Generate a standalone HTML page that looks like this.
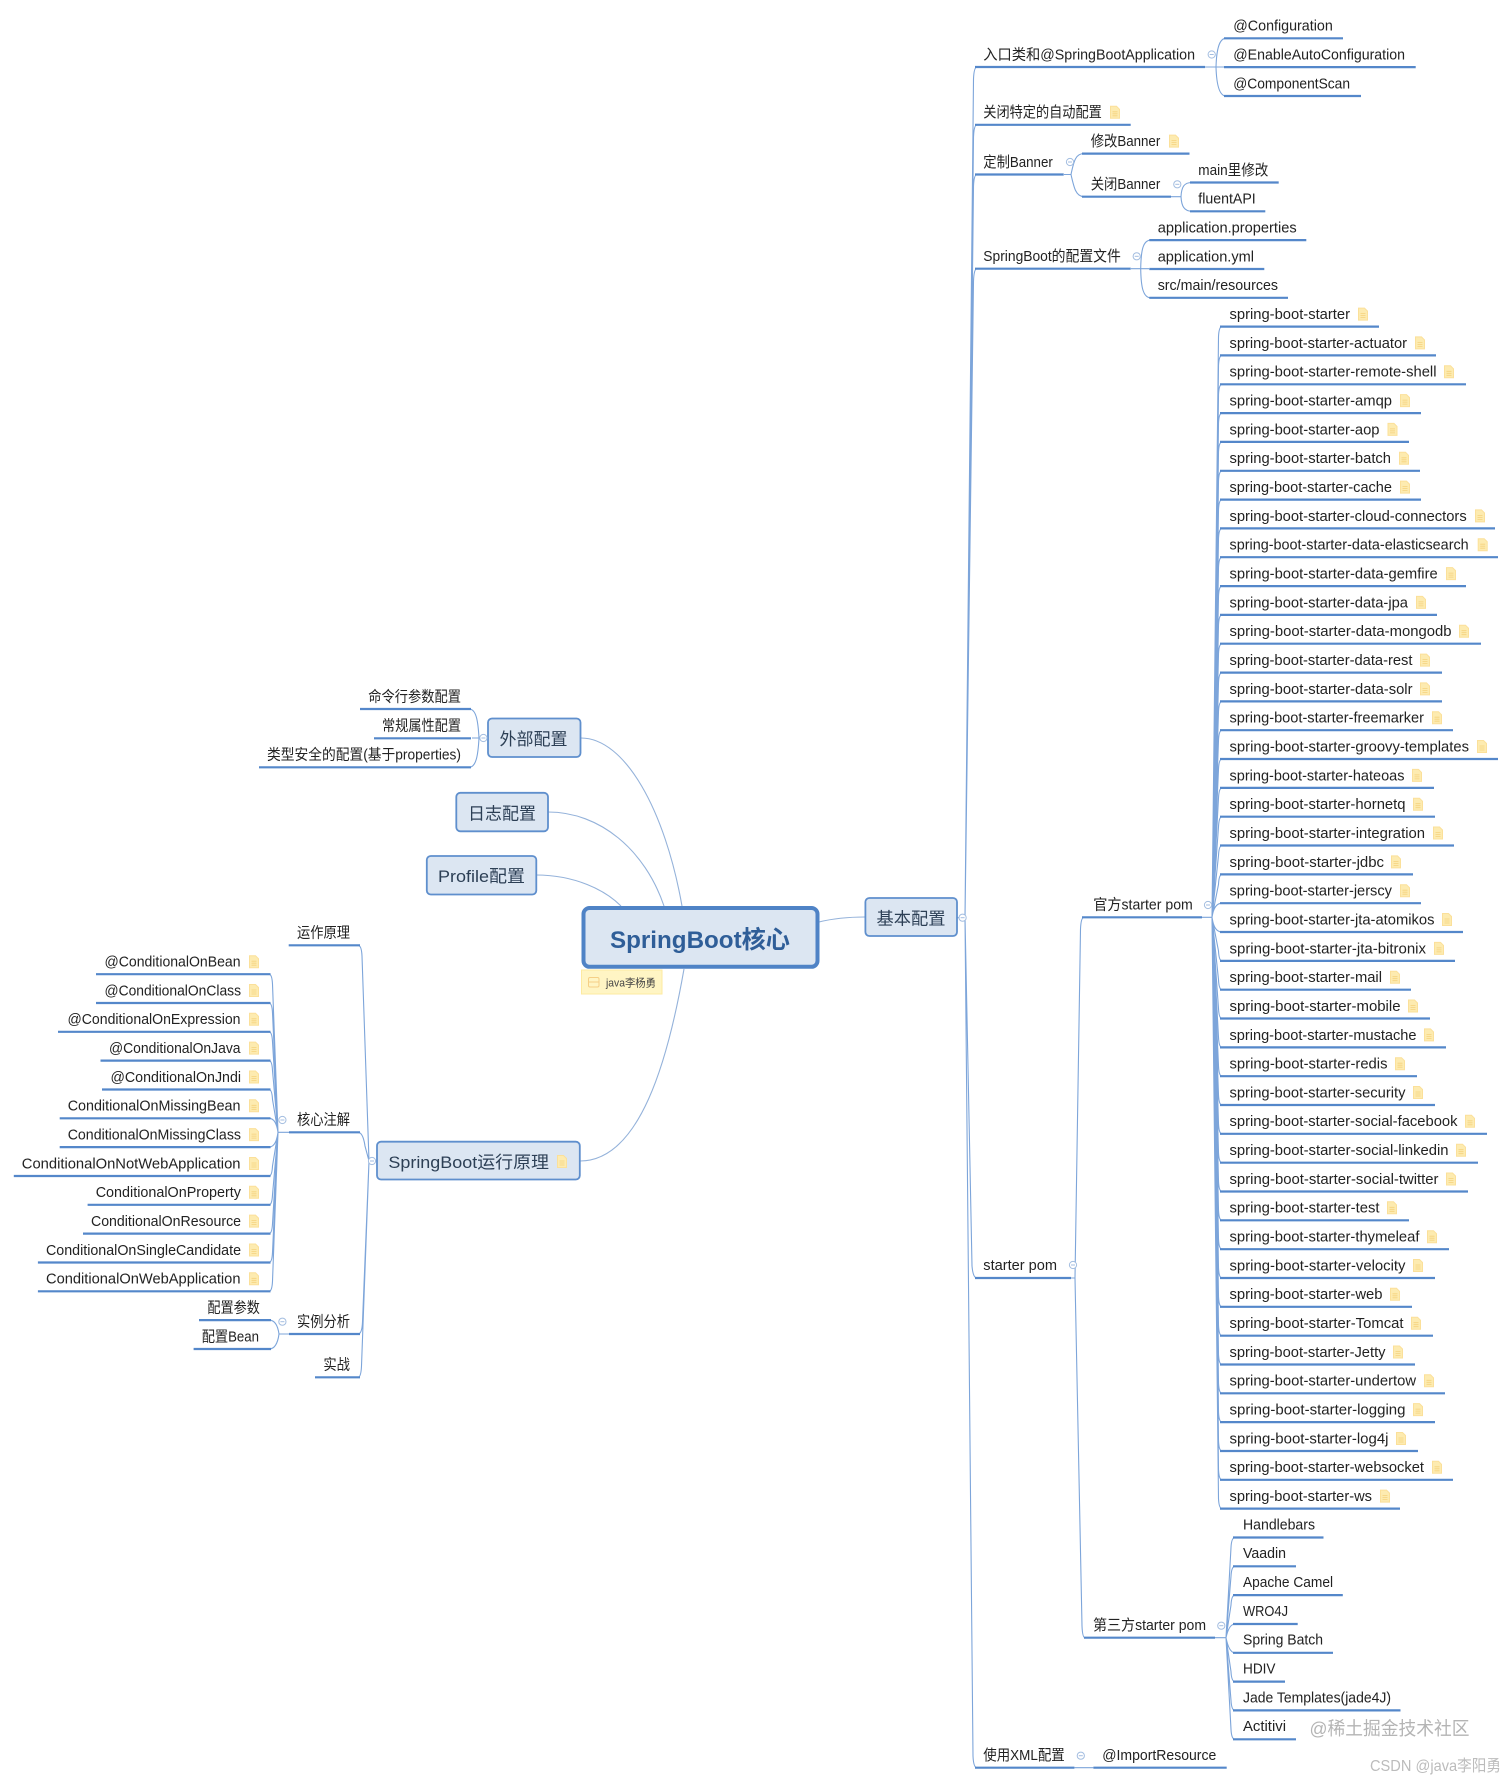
<!DOCTYPE html>
<html>
<head>
<meta charset="utf-8">
<style>
html,body{margin:0;padding:0;background:#fff}
svg{display:block;filter:blur(.3px)}
text{font-family:"Liberation Sans","Noto Sans CJK SC",sans-serif;font-size:14.7px;fill:#222}
.ul{fill:none;stroke:#5487ca;stroke-width:2.2}
.bus{fill:none;stroke:#7da5da;stroke-width:1.1}
.cn{fill:none;stroke:#94b2da;stroke-width:1.1}
.box{fill:#dce6f2;stroke:#5f8fcd;stroke-width:1.8}
.bt{font-size:17px;fill:#2c3f55}
</style>
</head>
<body>
<svg width="1512" height="1781" viewBox="0 0 1512 1781" xmlns="http://www.w3.org/2000/svg">
<defs>
<g id="i"><path d="M0.5 0.5H6.5L9.5 3.5V12.5H0.5Z" fill="#fdebb0" stroke="#fbe09a" stroke-width="1"/><path d="M2.5 6H7.5M2.5 8H7.5M2.5 10H7.5" stroke="#f5d27c" stroke-width="0.8"/></g>
<g id="c"><circle r="3.6" fill="#fff" stroke="#a3bde0" stroke-width="1"/><path d="M-2 0H2" stroke="#a3bde0" stroke-width="1"/></g>
</defs>

<!-- root connectors -->
<path class="cn" d="M581 738C625 738 665 810 682 906"/>
<path class="cn" d="M548 812C600 812 645 850 664 906"/>
<path class="cn" d="M536 875C575 875 605 890 621 906"/>
<path class="cn" d="M819 922C835 918 850 917 865 917"/>
<path class="cn" d="M580 1161C640 1161 668 1060 684 969"/>

<!-- buses right -->
<path class="bus" d="M957 917.7H965L973.5 79Q974 67 977 67M965 917.7L973.5 137Q974 124.8 977 124.8M965 917.7L973.5 186Q974 174.5 977 174.5M965 917.7L973.5 281Q974 268.7 977 268.7M965 917.7L972 1266Q973 1278 977 1278M965 917.7L973 1756Q973.5 1767.7 977 1767.7"/>
<path class="bus" d="M1205 67H1216C1216.5 50 1219 38.3 1226 38.3M1205 67H1224M1216 67C1216.5 84 1219 96 1226 96"/>
<path class="bus" d="M1064 174.5H1071C1074 160 1076 153.6 1084 153.6M1071 174.5C1074 188 1076 196.7 1084 196.7"/>
<path class="bus" d="M1171 196.7H1181C1181.5 187 1184 182.5 1192 182.5M1181 196.7C1181.5 206 1184 211.3 1192 211.3"/>
<path class="bus" d="M1131 268.7H1149M1140.7 268.7C1141 250 1143 240.1 1151 240.1M1140.7 268.7C1141 287 1143 297.8 1151 297.8"/>
<path class="bus" d="M1071 1278H1075L1080.5 929Q1081 917.3 1084 917.3M1075 1278L1082 1626Q1082.5 1637.7 1085 1637.7"/>
<path class="bus" d="M1202 917.3H1212L1218.5 336.6Q1219 326.6 1222 326.6M1212 917.3L1218.5 365.4Q1219 355.4 1222 355.4M1212 917.3L1218.5 394.3Q1219 384.3 1222 384.3M1212 917.3L1218.5 423.1Q1219 413.1 1222 413.1M1212 917.3L1218.5 451.9Q1219 441.9 1222 441.9M1212 917.3L1218.5 480.8Q1219 470.8 1222 470.8M1212 917.3L1218.5 509.6Q1219 499.6 1222 499.6M1212 917.3L1218.5 538.4Q1219 528.4 1222 528.4M1212 917.3L1218.5 567.2Q1219 557.2 1222 557.2M1212 917.3L1218.5 596.1Q1219 586.1 1222 586.1M1212 917.3L1218.5 624.9Q1219 614.9 1222 614.9M1212 917.3L1218.5 653.7Q1219 643.7 1222 643.7M1212 917.3L1218.5 682.6Q1219 672.6 1222 672.6M1212 917.3L1218.5 711.4Q1219 701.4 1222 701.4M1212 917.3L1218.5 740.2Q1219 730.2 1222 730.2M1212 917.3L1218.5 769Q1219 759 1222 759M1212 917.3L1218.5 797.9Q1219 787.9 1222 787.9M1212 917.3L1218.5 826.7Q1219 816.7 1222 816.7M1212 917.3L1218.5 855.5Q1219 845.5 1222 845.5M1212 917.3L1218.5 884.4Q1219 874.4 1222 874.4M1212 917.3Q1214 903.2 1222 903.2M1212 917.3Q1214 932 1222 932M1212 917.3L1218.5 950.9Q1219 960.9 1222 960.9M1212 917.3L1218.5 979.7Q1219 989.7 1222 989.7M1212 917.3L1218.5 1008.5Q1219 1018.5 1222 1018.5M1212 917.3L1218.5 1037.4Q1219 1047.4 1222 1047.4M1212 917.3L1218.5 1066.2Q1219 1076.2 1222 1076.2M1212 917.3L1218.5 1095Q1219 1105 1222 1105M1212 917.3L1218.5 1123.8Q1219 1133.8 1222 1133.8M1212 917.3L1218.5 1152.7Q1219 1162.7 1222 1162.7M1212 917.3L1218.5 1181.5Q1219 1191.5 1222 1191.5M1212 917.3L1218.5 1210.3Q1219 1220.3 1222 1220.3M1212 917.3L1218.5 1239.2Q1219 1249.2 1222 1249.2M1212 917.3L1218.5 1268Q1219 1278 1222 1278M1212 917.3L1218.5 1296.8Q1219 1306.8 1222 1306.8M1212 917.3L1218.5 1325.7Q1219 1335.7 1222 1335.7M1212 917.3L1218.5 1354.5Q1219 1364.5 1222 1364.5M1212 917.3L1218.5 1383.3Q1219 1393.3 1222 1393.3M1212 917.3L1218.5 1412.1Q1219 1422.1 1222 1422.1M1212 917.3L1218.5 1441Q1219 1451 1222 1451M1212 917.3L1218.5 1469.8Q1219 1479.8 1222 1479.8M1212 917.3L1218.5 1498.6Q1219 1508.6 1222 1508.6"/>
<path class="bus" d="M1215 1637.7H1226L1231 1547.5Q1231.5 1537.5 1235 1537.5M1226 1637.7L1231 1576.3Q1231.5 1566.3 1235 1566.3M1226 1637.7L1231 1605.1Q1231.5 1595.1 1235 1595.1M1226 1637.7Q1229 1624 1235 1624M1226 1637.7Q1229 1652.8 1235 1652.8M1226 1637.7L1231 1671.6Q1231.5 1681.6 1235 1681.6M1226 1637.7L1231 1700.4Q1231.5 1710.4 1235 1710.4M1226 1637.7L1231 1729.3Q1231.5 1739.3 1235 1739.3"/>
<path class="bus" d="M1074.4 1767.7H1093.4"/>

<!-- buses left -->
<path class="bus" d="M377 1161H369L362 956Q361.5 945.3 358 945.3M369 1161L365 1146Q363 1132.3 358 1132.3M369 1161L362.5 1322Q362 1334 358 1334M369 1161L361.5 1366Q361 1377.3 358 1377.3"/>
<path class="bus" d="M289 1132.3H278L272.5 984.2Q272 974.2 269 974.2M278 1132.3L272.5 1013Q272 1003 269 1003M278 1132.3L272.5 1041.8Q272 1031.8 269 1031.8M278 1132.3L272.5 1070.6Q272 1060.6 269 1060.6M278 1132.3L272.5 1099.5Q272 1089.5 269 1089.5M278 1132.3Q276 1118.3 269 1118.3M278 1132.3Q276 1147.1 269 1147.1M278 1132.3L272.5 1166Q272 1176 269 1176M278 1132.3L272.5 1194.8Q272 1204.8 269 1204.8M278 1132.3L272.5 1223.6Q272 1233.6 269 1233.6M278 1132.3L272.5 1252.5Q272 1262.5 269 1262.5M278 1132.3L272.5 1281.3Q272 1291.3 269 1291.3"/>
<path class="bus" d="M289 1334H279Q277 1320.1 269 1320.1M279 1334Q277 1349 269 1349"/>
<path class="bus" d="M488 738H472M479 738C478 720 476 709 469 709M479 738C478 756 476 767.3 469 767.3"/>

<!-- underlines -->
<path class="ul" d="M975 67H1205M1224 38.3H1343M1224 67.1H1415.7M1224 96H1361M975 124.8H1130.7M975 174.5H1063.7M1082 153.6H1189.5M1082 196.7H1171M1190 182.5H1278.7M1190 211.3H1265.3M975 268.7H1130.7M1149.3 240.1H1306.3M1149.3 269H1264.3M1149.3 297.8H1288M975 1278H1071M1082 917.3H1202M1084 1637.7H1215M975 1767.7H1074.4M1093.4 1767.7H1226.7
M1233 1537.5H1323.5M1233 1566.3H1296M1233 1595.1H1342.8M1233 1624H1297.7M1233 1652.8H1333M1233 1681.6H1285M1233 1710.4H1400.5M1233 1739.3H1296
M1220 326.6H1379M1220 355.4H1436M1220 384.3H1466M1220 413.1H1421M1220 441.9H1409M1220 470.8H1420M1220 499.6H1421M1220 528.4H1495M1220 557.2H1498M1220 586.1H1466M1220 614.9H1437M1220 643.7H1481M1220 672.6H1442M1220 701.4H1442M1220 730.2H1453M1220 759H1498M1220 787.9H1434M1220 816.7H1435M1220 845.5H1454M1220 874.4H1413M1220 903.2H1421M1220 932H1463M1220 960.9H1455M1220 989.7H1411M1220 1018.5H1430M1220 1047.4H1446M1220 1076.2H1417M1220 1105H1435M1220 1133.8H1487M1220 1162.7H1478M1220 1191.5H1468M1220 1220.3H1409M1220 1249.2H1449M1220 1278H1435M1220 1306.8H1412M1220 1335.7H1433M1220 1364.5H1415M1220 1393.3H1445M1220 1422.1H1435M1220 1451H1418M1220 1479.8H1453M1220 1508.6H1400
M288.7 945.3H360M289 1132.3H360M289 1334H360M315 1377.3H360
M96 974.2H270.5M96 1003H270.5M58 1031.8H270.5M100.5 1060.6H270.5M102 1089.5H270.5M59.7 1118.3H270.5M59.7 1147.1H270.5M13.8 1176H270.5M87.6 1204.8H270.5M83 1233.6H270.5M37.9 1262.5H270.5M37.9 1291.3H270.5M199 1320.1H271M193.6 1349H271
M360 709H471M374 738.3H471M259 767.3H471"/>

<!-- boxes -->
<rect class="box" x="488" y="718.5" width="92.5" height="38.5" rx="4"/>
<rect class="box" x="456.3" y="792.8" width="91.7" height="38.5" rx="4"/>
<rect class="box" x="426.8" y="856" width="109.5" height="38.5" rx="4"/>
<rect class="box" x="865.4" y="898" width="91.6" height="38" rx="4"/>
<rect class="box" x="377" y="1141.7" width="202.8" height="37.8" rx="4"/>
<rect x="583.5" y="908" width="234" height="58.8" rx="6" fill="#dce6f2" stroke="#4f83c6" stroke-width="4"/>

<text x="610" y="948" textLength="180" lengthAdjust="spacingAndGlyphs" style="font-size:24.5px;font-weight:bold;fill:#2f5e98">SpringBoot核心</text>
<text class="bt" x="499.5" y="745" textLength="68" lengthAdjust="spacingAndGlyphs">外部配置</text>
<text class="bt" x="468" y="819.5" textLength="68" lengthAdjust="spacingAndGlyphs">日志配置</text>
<text class="bt" x="438" y="882" textLength="87" lengthAdjust="spacingAndGlyphs">Profile配置</text>
<text class="bt" x="876.5" y="924.5" textLength="69" lengthAdjust="spacingAndGlyphs">基本配置</text>
<text class="bt" x="388.4" y="1168" textLength="160.6" lengthAdjust="spacingAndGlyphs">SpringBoot运行原理</text>
<use href="#i" x="557" y="1155"/>

<!-- note -->
<rect x="581.5" y="970" width="80.5" height="24" fill="#fff5c4" stroke="#fdeaa0" stroke-width="1"/>
<rect x="588.5" y="977.5" width="10.5" height="9.5" rx="1.5" fill="none" stroke="#f5cf86" stroke-width="1"/>
<path d="M588.5 982H599" stroke="#f5cf86" stroke-width="1"/>
<text x="606" y="986.5" textLength="50" lengthAdjust="spacingAndGlyphs" style="font-size:11px;fill:#444">java李杨勇</text>

<!-- collapse circles -->
<use href="#c" x="962.6" y="917.7"/><use href="#c" x="1211.7" y="54.5"/><use href="#c" x="1070" y="162"/><use href="#c" x="1177.3" y="184.3"/><use href="#c" x="1136.7" y="256.3"/><use href="#c" x="1073" y="1265"/><use href="#c" x="1208" y="905"/><use href="#c" x="1221.3" y="1625.7"/><use href="#c" x="1080.8" y="1755.7"/><use href="#c" x="372" y="1161"/><use href="#c" x="282.4" y="1120"/><use href="#c" x="282.4" y="1321.7"/><use href="#c" x="483.4" y="738"/>

<!-- right top texts -->
<g>
<text x="983.3" y="59.5" textLength="211.7" lengthAdjust="spacingAndGlyphs">入口类和@SpringBootApplication</text>
<text x="1233.3" y="30.7" textLength="99.5" lengthAdjust="spacingAndGlyphs">@Configuration</text>
<text x="1233.3" y="59.5" textLength="171.7" lengthAdjust="spacingAndGlyphs">@EnableAutoConfiguration</text>
<text x="1233.3" y="88.4" textLength="116.7" lengthAdjust="spacingAndGlyphs">@ComponentScan</text>
<text x="983.3" y="117.2" textLength="118.5" lengthAdjust="spacingAndGlyphs">关闭特定的自动配置</text>
<text x="983.3" y="167" textLength="69.5" lengthAdjust="spacingAndGlyphs">定制Banner</text>
<text x="1090.7" y="146" textLength="69.6" lengthAdjust="spacingAndGlyphs">修改Banner</text>
<text x="1090.7" y="189" textLength="69.6" lengthAdjust="spacingAndGlyphs">关闭Banner</text>
<text x="1198.3" y="174.9" textLength="70" lengthAdjust="spacingAndGlyphs">main里修改</text>
<text x="1198.3" y="203.7" textLength="57.4" lengthAdjust="spacingAndGlyphs">fluentAPI</text>
<text x="983.3" y="261" textLength="137.5" lengthAdjust="spacingAndGlyphs">SpringBoot的配置文件</text>
<text x="1157.7" y="232.5" textLength="139" lengthAdjust="spacingAndGlyphs">application.properties</text>
<text x="1157.7" y="261.4" textLength="96.3" lengthAdjust="spacingAndGlyphs">application.yml</text>
<text x="1157.7" y="290.2" textLength="120.3" lengthAdjust="spacingAndGlyphs">src/main/resources</text>
<text x="983.3" y="1269.9" textLength="73.7" lengthAdjust="spacingAndGlyphs">starter pom</text>
<text x="1093.3" y="909.7" textLength="99.5" lengthAdjust="spacingAndGlyphs">官方starter pom</text>
<text x="1093" y="1630" textLength="113" lengthAdjust="spacingAndGlyphs">第三方starter pom</text>
<text x="983.3" y="1760" textLength="81.4" lengthAdjust="spacingAndGlyphs">使用XML配置</text>
<text x="1102.3" y="1760" textLength="114" lengthAdjust="spacingAndGlyphs">@ImportResource</text>

<text x="1243" y="1529.4" textLength="72" lengthAdjust="spacingAndGlyphs">Handlebars</text>
<text x="1243" y="1558.2" textLength="43" lengthAdjust="spacingAndGlyphs">Vaadin</text>
<text x="1243" y="1587" textLength="90" lengthAdjust="spacingAndGlyphs">Apache Camel</text>
<text x="1243" y="1615.9" textLength="45" lengthAdjust="spacingAndGlyphs">WRO4J</text>
<text x="1243" y="1644.7" textLength="80" lengthAdjust="spacingAndGlyphs">Spring Batch</text>
<text x="1243" y="1673.5" textLength="32.5" lengthAdjust="spacingAndGlyphs">HDIV</text>
<text x="1243" y="1702.3" textLength="148" lengthAdjust="spacingAndGlyphs">Jade Templates(jade4J)</text>
<text x="1243" y="1731.2" textLength="43" lengthAdjust="spacingAndGlyphs">Actitivi</text>

<!-- starters -->
<text x="1229.5" y="319" textLength="120.5" lengthAdjust="spacingAndGlyphs">spring-boot-starter</text>
<text x="1229.5" y="347.8" textLength="177.5" lengthAdjust="spacingAndGlyphs">spring-boot-starter-actuator</text>
<text x="1229.5" y="376.7" textLength="207" lengthAdjust="spacingAndGlyphs">spring-boot-starter-remote-shell</text>
<text x="1229.5" y="405.5" textLength="162.5" lengthAdjust="spacingAndGlyphs">spring-boot-starter-amqp</text>
<text x="1229.5" y="434.3" textLength="150" lengthAdjust="spacingAndGlyphs">spring-boot-starter-aop</text>
<text x="1229.5" y="463.2" textLength="161.5" lengthAdjust="spacingAndGlyphs">spring-boot-starter-batch</text>
<text x="1229.5" y="492" textLength="162.5" lengthAdjust="spacingAndGlyphs">spring-boot-starter-cache</text>
<text x="1229.5" y="520.8" textLength="237.2" lengthAdjust="spacingAndGlyphs">spring-boot-starter-cloud-connectors</text>
<text x="1229.5" y="549.6" textLength="239.2" lengthAdjust="spacingAndGlyphs">spring-boot-starter-data-elasticsearch</text>
<text x="1229.5" y="578.5" textLength="208.2" lengthAdjust="spacingAndGlyphs">spring-boot-starter-data-gemfire</text>
<text x="1229.5" y="607.3" textLength="178.5" lengthAdjust="spacingAndGlyphs">spring-boot-starter-data-jpa</text>
<text x="1229.5" y="636.1" textLength="222" lengthAdjust="spacingAndGlyphs">spring-boot-starter-data-mongodb</text>
<text x="1229.5" y="665" textLength="183" lengthAdjust="spacingAndGlyphs">spring-boot-starter-data-rest</text>
<text x="1229.5" y="693.8" textLength="183" lengthAdjust="spacingAndGlyphs">spring-boot-starter-data-solr</text>
<text x="1229.5" y="722.6" textLength="194.5" lengthAdjust="spacingAndGlyphs">spring-boot-starter-freemarker</text>
<text x="1229.5" y="751.4" textLength="239.5" lengthAdjust="spacingAndGlyphs">spring-boot-starter-groovy-templates</text>
<text x="1229.5" y="780.3" textLength="175" lengthAdjust="spacingAndGlyphs">spring-boot-starter-hateoas</text>
<text x="1229.5" y="809.1" textLength="176" lengthAdjust="spacingAndGlyphs">spring-boot-starter-hornetq</text>
<text x="1229.5" y="837.9" textLength="195.5" lengthAdjust="spacingAndGlyphs">spring-boot-starter-integration</text>
<text x="1229.5" y="866.8" textLength="154.5" lengthAdjust="spacingAndGlyphs">spring-boot-starter-jdbc</text>
<text x="1229.5" y="895.6" textLength="162.5" lengthAdjust="spacingAndGlyphs">spring-boot-starter-jerscy</text>
<text x="1229.5" y="924.4" textLength="205" lengthAdjust="spacingAndGlyphs">spring-boot-starter-jta-atomikos</text>
<text x="1229.5" y="953.3" textLength="196.5" lengthAdjust="spacingAndGlyphs">spring-boot-starter-jta-bitronix</text>
<text x="1229.5" y="982.1" textLength="152.5" lengthAdjust="spacingAndGlyphs">spring-boot-starter-mail</text>
<text x="1229.5" y="1010.9" textLength="171" lengthAdjust="spacingAndGlyphs">spring-boot-starter-mobile</text>
<text x="1229.5" y="1039.8" textLength="187" lengthAdjust="spacingAndGlyphs">spring-boot-starter-mustache</text>
<text x="1229.5" y="1068.6" textLength="158" lengthAdjust="spacingAndGlyphs">spring-boot-starter-redis</text>
<text x="1229.5" y="1097.4" textLength="176" lengthAdjust="spacingAndGlyphs">spring-boot-starter-security</text>
<text x="1229.5" y="1126.2" textLength="228" lengthAdjust="spacingAndGlyphs">spring-boot-starter-social-facebook</text>
<text x="1229.5" y="1155.1" textLength="219" lengthAdjust="spacingAndGlyphs">spring-boot-starter-social-linkedin</text>
<text x="1229.5" y="1183.9" textLength="209" lengthAdjust="spacingAndGlyphs">spring-boot-starter-social-twitter</text>
<text x="1229.5" y="1212.7" textLength="150" lengthAdjust="spacingAndGlyphs">spring-boot-starter-test</text>
<text x="1229.5" y="1241.6" textLength="190" lengthAdjust="spacingAndGlyphs">spring-boot-starter-thymeleaf</text>
<text x="1229.5" y="1270.4" textLength="176" lengthAdjust="spacingAndGlyphs">spring-boot-starter-velocity</text>
<text x="1229.5" y="1299.2" textLength="153" lengthAdjust="spacingAndGlyphs">spring-boot-starter-web</text>
<text x="1229.5" y="1328.1" textLength="174" lengthAdjust="spacingAndGlyphs">spring-boot-starter-Tomcat</text>
<text x="1229.5" y="1356.9" textLength="156" lengthAdjust="spacingAndGlyphs">spring-boot-starter-Jetty</text>
<text x="1229.5" y="1385.7" textLength="186.5" lengthAdjust="spacingAndGlyphs">spring-boot-starter-undertow</text>
<text x="1229.5" y="1414.5" textLength="176" lengthAdjust="spacingAndGlyphs">spring-boot-starter-logging</text>
<text x="1229.5" y="1443.4" textLength="159" lengthAdjust="spacingAndGlyphs">spring-boot-starter-log4j</text>
<text x="1229.5" y="1472.2" textLength="194.5" lengthAdjust="spacingAndGlyphs">spring-boot-starter-websocket</text>
<text x="1229.5" y="1501" textLength="142.5" lengthAdjust="spacingAndGlyphs">spring-boot-starter-ws</text>

<!-- left texts -->
<text x="368.3" y="701.4" textLength="92.7" lengthAdjust="spacingAndGlyphs">命令行参数配置</text>
<text x="382" y="730.7" textLength="79" lengthAdjust="spacingAndGlyphs">常规属性配置</text>
<text x="267" y="759.7" textLength="194" lengthAdjust="spacingAndGlyphs">类型安全的配置(基于properties)</text>
<text x="297" y="937.7" textLength="53" lengthAdjust="spacingAndGlyphs">运作原理</text>
<text x="297" y="1124.7" textLength="53" lengthAdjust="spacingAndGlyphs">核心注解</text>
<text x="297" y="1326.4" textLength="53" lengthAdjust="spacingAndGlyphs">实例分析</text>
<text x="323.4" y="1369.7" textLength="26.6" lengthAdjust="spacingAndGlyphs">实战</text>
<text x="104.5" y="966.6" textLength="136" lengthAdjust="spacingAndGlyphs">@ConditionalOnBean</text>
<text x="104.5" y="995.4" textLength="136.5" lengthAdjust="spacingAndGlyphs">@ConditionalOnClass</text>
<text x="67.5" y="1024.2" textLength="173" lengthAdjust="spacingAndGlyphs">@ConditionalOnExpression</text>
<text x="109" y="1053" textLength="131.5" lengthAdjust="spacingAndGlyphs">@ConditionalOnJava</text>
<text x="110.5" y="1081.9" textLength="130.5" lengthAdjust="spacingAndGlyphs">@ConditionalOnJndi</text>
<text x="67.7" y="1110.7" textLength="172.8" lengthAdjust="spacingAndGlyphs">ConditionalOnMissingBean</text>
<text x="67.7" y="1139.5" textLength="173.3" lengthAdjust="spacingAndGlyphs">ConditionalOnMissingClass</text>
<text x="21.8" y="1168.4" textLength="218.7" lengthAdjust="spacingAndGlyphs">ConditionalOnNotWebApplication</text>
<text x="95.7" y="1197.2" textLength="145.3" lengthAdjust="spacingAndGlyphs">ConditionalOnProperty</text>
<text x="91" y="1226" textLength="150" lengthAdjust="spacingAndGlyphs">ConditionalOnResource</text>
<text x="46" y="1254.9" textLength="195" lengthAdjust="spacingAndGlyphs">ConditionalOnSingleCandidate</text>
<text x="46" y="1283.7" textLength="194.5" lengthAdjust="spacingAndGlyphs">ConditionalOnWebApplication</text>
<text x="207.4" y="1312.5" textLength="52.5" lengthAdjust="spacingAndGlyphs">配置参数</text>
<text x="201.7" y="1341.4" textLength="57.3" lengthAdjust="spacingAndGlyphs">配置Bean</text>
</g>

<!-- note icons -->
<use href="#i" x="1110" y="105.8"/><use href="#i" x="1169" y="134.6"/>
<use href="#i" x="1358" y="307.6"/><use href="#i" x="1415" y="336.4"/><use href="#i" x="1444" y="365.3"/><use href="#i" x="1400" y="394.1"/><use href="#i" x="1387.5" y="422.9"/><use href="#i" x="1399" y="451.8"/><use href="#i" x="1400" y="480.6"/><use href="#i" x="1475" y="509.4"/><use href="#i" x="1477.7" y="538.2"/><use href="#i" x="1446" y="567.1"/><use href="#i" x="1416" y="595.9"/><use href="#i" x="1459" y="624.7"/><use href="#i" x="1420" y="653.6"/><use href="#i" x="1420" y="682.4"/><use href="#i" x="1432" y="711.2"/><use href="#i" x="1477" y="740"/><use href="#i" x="1412" y="768.9"/><use href="#i" x="1413" y="797.7"/><use href="#i" x="1433" y="826.5"/><use href="#i" x="1391" y="855.4"/><use href="#i" x="1400" y="884.2"/><use href="#i" x="1442" y="913"/><use href="#i" x="1434" y="941.9"/><use href="#i" x="1390" y="970.7"/><use href="#i" x="1408" y="999.5"/><use href="#i" x="1424" y="1028.4"/><use href="#i" x="1395" y="1057.2"/><use href="#i" x="1413" y="1086"/><use href="#i" x="1465" y="1114.8"/><use href="#i" x="1456" y="1143.7"/><use href="#i" x="1446" y="1172.5"/><use href="#i" x="1387" y="1201.3"/><use href="#i" x="1427" y="1230.2"/><use href="#i" x="1413" y="1259"/><use href="#i" x="1390" y="1287.8"/><use href="#i" x="1411" y="1316.7"/><use href="#i" x="1393" y="1345.5"/><use href="#i" x="1424" y="1374.3"/><use href="#i" x="1413" y="1403.1"/><use href="#i" x="1396" y="1432"/><use href="#i" x="1432" y="1460.8"/><use href="#i" x="1380" y="1489.6"/>
<use href="#i" x="249" y="955.2"/><use href="#i" x="249" y="984"/><use href="#i" x="249" y="1012.8"/><use href="#i" x="249" y="1041.6"/><use href="#i" x="249" y="1070.5"/><use href="#i" x="249" y="1099.3"/><use href="#i" x="249" y="1128.1"/><use href="#i" x="249" y="1157"/><use href="#i" x="249" y="1185.8"/><use href="#i" x="249" y="1214.6"/><use href="#i" x="249" y="1243.5"/><use href="#i" x="249" y="1272.3"/>

<!-- watermarks -->
<text x="1309.5" y="1735" textLength="160" lengthAdjust="spacingAndGlyphs" style="font-size:18.5px;fill:#b4b4b4">@稀土掘金技术社区</text>
<text x="1370" y="1771" textLength="131" lengthAdjust="spacingAndGlyphs" style="font-size:16px;fill:#bcbcbc">CSDN @java李阳勇</text>
</svg>
</body>
</html>
